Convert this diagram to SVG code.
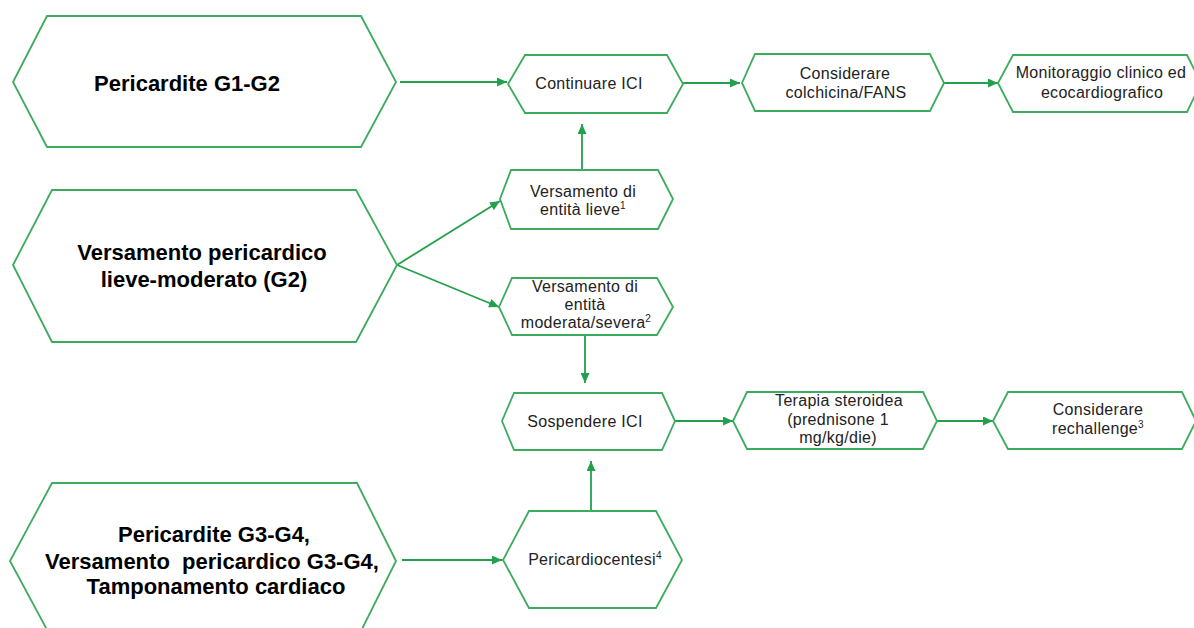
<svg xmlns="http://www.w3.org/2000/svg" width="1194" height="628" viewBox="0 0 1194 628">
<style>
.box{fill:#ffffff;stroke:#3cab5e;stroke-width:1.8}
.big{font-family:"Liberation Sans",Arial,sans-serif;font-weight:bold;font-size:22px;fill:#000;text-anchor:middle}
.sm{font-family:"Liberation Sans",Arial,sans-serif;font-size:16px;letter-spacing:0.3px;fill:#222;text-anchor:middle}
.sup{font-size:10px}
.arr{stroke:#22a04b;stroke-width:1.8;fill:none;marker-end:url(#ah)}
</style>
<defs>
<marker id="ah" markerUnits="userSpaceOnUse" markerWidth="11" markerHeight="9" refX="10" refY="4.5" orient="auto">
<path d="M0,0 L10,4.5 L0,9 z" fill="#22a04b"/>
</marker>
</defs>
<rect width="1194" height="628" fill="#ffffff"/>
<g id="connectors">
<line class="arr" x1="400" y1="82" x2="507" y2="82"/>
<line class="arr" x1="683" y1="83" x2="740" y2="83"/>
<line class="arr" x1="944" y1="83" x2="998" y2="83"/>
<line class="arr" x1="582" y1="170" x2="582" y2="124"/>
<line class="arr" x1="397" y1="265" x2="500" y2="201"/>
<line class="arr" x1="397" y1="265" x2="499" y2="307"/>
<line class="arr" x1="585" y1="335" x2="585" y2="383"/>
<line class="arr" x1="675" y1="421" x2="733" y2="421"/>
<line class="arr" x1="937" y1="421" x2="993" y2="421"/>
<line class="arr" x1="402" y1="560" x2="502" y2="560"/>
<line class="arr" x1="591" y1="511" x2="591" y2="461"/>
</g>
<g id="n-pericardite-g1g2">
<polygon class="box" points="47,16 361,16 396,82 361,147 47,147 13,82"/>
<text class="big" x="187" y="91">Pericardite G1-G2</text>
</g>
<g id="n-versamento-g2">
<polygon class="box" points="52,190 356,190 397,265 356,342 52,342 13,265"/>
<text class="big" x="202" y="260">Versamento pericardico</text>
<text class="big" x="204" y="287">lieve-moderato (G2)</text>
</g>
<g id="n-pericardite-g3g4">
<polygon class="box" points="52,483 357,483 396,561 357,639 52,639 10,561"/>
<text class="big" x="214" y="542">Pericardite G3-G4,</text>
<text class="big" x="212" y="569" xml:space="preserve">Versamento  pericardico G3-G4,</text>
<text class="big" x="216" y="594">Tamponamento cardiaco</text>
</g>
<g id="n-continuare">
<polygon class="box" points="525,55 667,55 683,84 667,113 525,113 508,84"/>
<text class="sm" x="589" y="89">Continuare ICI</text>
</g>
<g id="n-colchicina">
<polygon class="box" points="755,54 930,54 944,83 930,111 755,111 742,83"/>
<text class="sm" x="845" y="79">Considerare</text>
<text class="sm" x="846" y="98">colchicina/FANS</text>
</g>
<g id="n-monitoraggio">
<polygon class="box" points="1013,55 1187,55 1201,83 1187,112 1013,112 998,83"/>
<text class="sm" x="1101" y="78">Monitoraggio clinico ed</text>
<text class="sm" x="1102" y="98">ecocardiografico</text>
</g>
<g id="n-lieve">
<polygon class="box" points="511,170 658,170 673,199 658,229 511,229 500,199"/>
<text class="sm" x="583" y="197">Versamento di</text>
<text class="sm" x="583" y="215">entità lieve<tspan class="sup" dy="-6">1</tspan></text>
</g>
<g id="n-moderata">
<polygon class="box" points="512,278 657,278 673,307 657,335 512,335 499,307"/>
<text class="sm" x="585" y="292">Versamento di</text>
<text class="sm" x="585" y="310">entità</text>
<text class="sm" x="586" y="328">moderata/severa<tspan class="sup" dy="-6">2</tspan></text>
</g>
<g id="n-sospendere">
<polygon class="box" points="514,393 662,393 675,421 662,450 514,450 502,421"/>
<text class="sm" x="585" y="427">Sospendere ICI</text>
</g>
<g id="n-terapia">
<polygon class="box" points="747,392 923,392 937,421 923,449 747,449 733,421"/>
<text class="sm" x="839" y="406">Terapia steroidea</text>
<text class="sm" x="838" y="425">(prednisone 1</text>
<text class="sm" x="838" y="443">mg/kg/die)</text>
</g>
<g id="n-rechallenge">
<polygon class="box" points="1008,392 1182,392 1196,421 1182,449 1008,449 993,421"/>
<text class="sm" x="1098" y="415">Considerare</text>
<text class="sm" x="1098" y="434">rechallenge<tspan class="sup" dy="-6">3</tspan></text>
</g>
<g id="n-pericardiocentesi">
<polygon class="box" points="529,511 656,511 682,560 656,608 529,608 503,560"/>
<text class="sm" x="595" y="565">Pericardiocentesi<tspan class="sup" dy="-6">4</tspan></text>
</g>
</svg>
